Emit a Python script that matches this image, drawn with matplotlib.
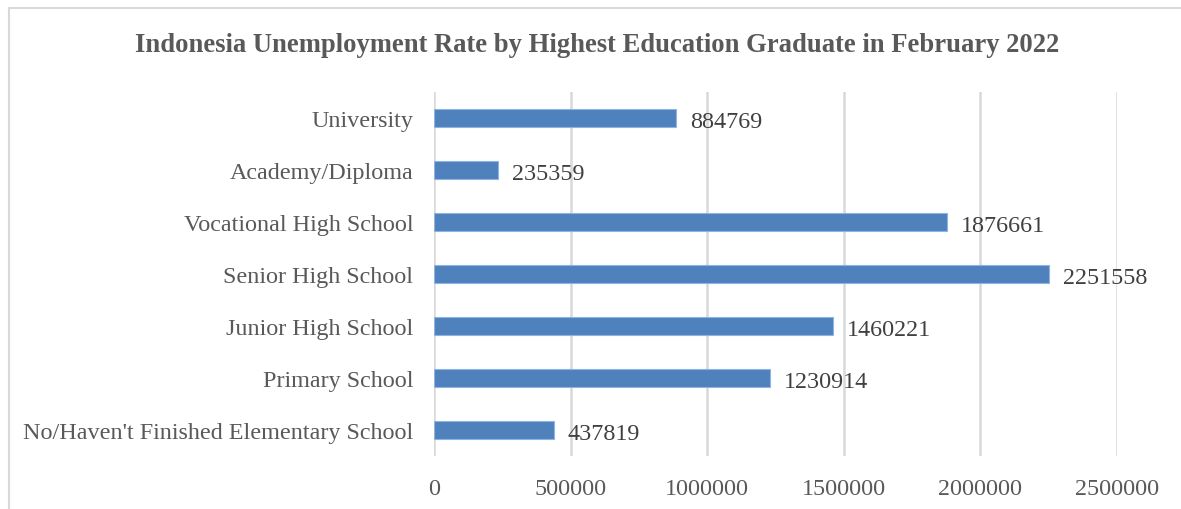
import matplotlib.pyplot as plt
from matplotlib.patches import Rectangle

categories = ["No/Haven't Finished Elementary School", "Primary School", "Junior High School",
              "Senior High School", "Vocational High School", "Academy/Diploma", "University"]
values = [437819, 1230914, 1460221, 2251558, 1876661, 235359, 884769]
xticks = [0, 500000, 1000000, 1500000, 2000000, 2500000]

plt.rcParams['font.family'] = ['Liberation Serif', 'DejaVu Serif']

fig = plt.figure(figsize=(11.81, 5.10), dpi=100, facecolor='white')
ax = fig.add_axes([434 / 1181, 1 - 457 / 510, (1117 - 434) / 1181, (457 - 93) / 510])

ax.barh(range(len(categories)), values, height=0.35, color='#4F81BD', edgecolor='#8EB4E3',
        linewidth=0.8, zorder=3)
for i, v in enumerate(values):
    ax.annotate(str(v), (v, i), xytext=(14, -1), textcoords='offset pixels',
                va='center_baseline', ha='left', fontsize=17.4, color='#404040')

ax.set_xlim(0, 2500000)
ax.set_ylim(-0.5, len(categories) - 0.5)
ax.set_xticks(xticks)
ax.set_xticklabels([str(t) for t in xticks])
ax.set_yticks(range(len(categories)))
ax.set_yticklabels(categories, va='center_baseline')
ax.tick_params(axis='both', length=0, labelsize=17.4, labelcolor='#595959')
ax.tick_params(axis='x', pad=16)
ax.tick_params(axis='y', pad=15)
ax.grid(axis='x', color='#D9D9D9', linewidth=1.8, zorder=0)
for s in ax.spines.values():
    s.set_visible(False)

fig.text(597 / 1181, 1 - 46 / 510, "Indonesia Unemployment Rate by Highest Education Graduate in February 2022",
         ha='center', va='center', fontsize=19.2, fontweight='bold', color='#595959')

fig.patches.append(Rectangle((9 / 1181, -0.1), 1.2, 1 - 9 / 510 + 0.1, transform=fig.transFigure,
                             fill=False, edgecolor='#D9D9D9', linewidth=1.5))

plt.savefig('out.png', facecolor='white')
